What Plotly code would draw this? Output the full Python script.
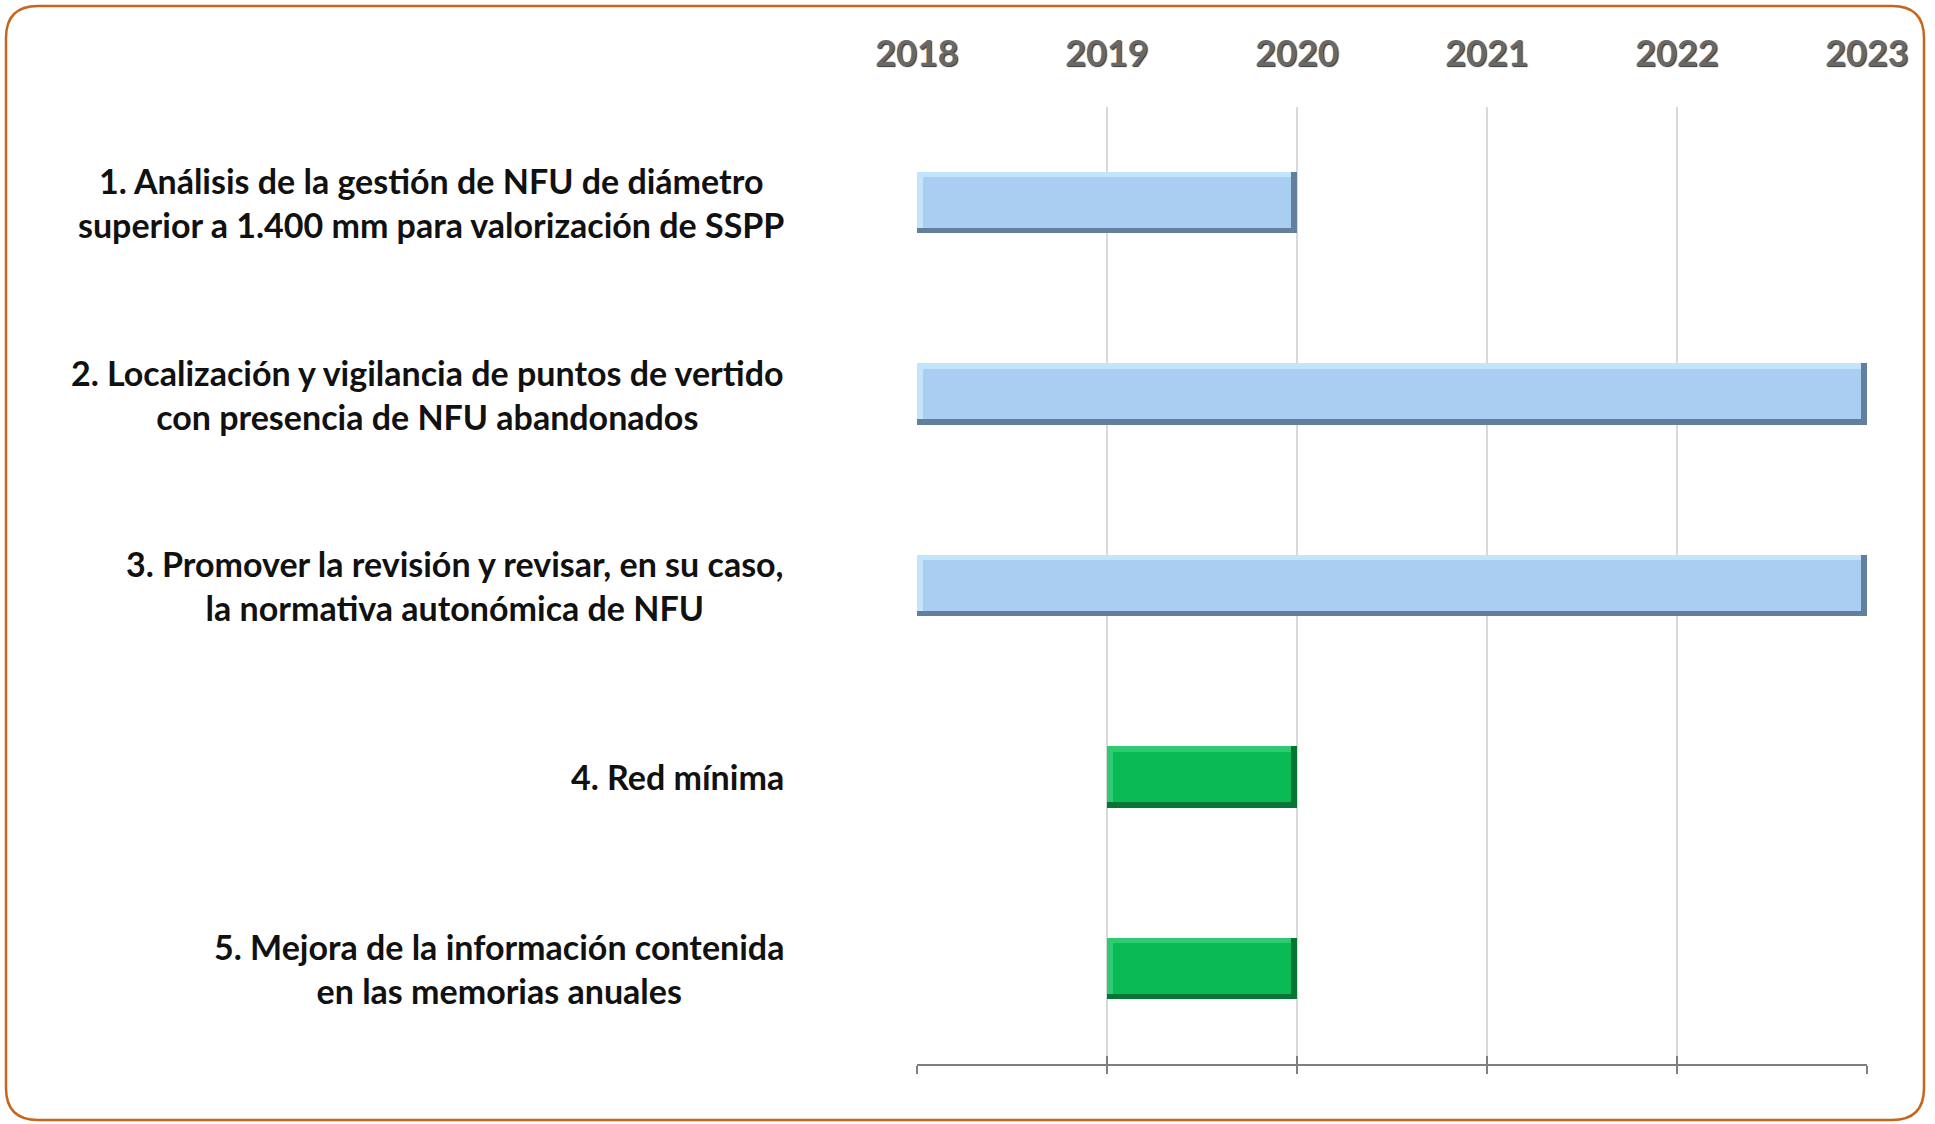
import plotly.graph_objects as go

# ---- data ----
tasks = [
    "1. Análisis de la gestión de NFU de diámetro<br>superior a 1.400 mm para valorización de SSPP",
    "2. Localización y vigilancia de puntos de vertido<br>con presencia de NFU abandonados",
    "3. Promover la revisión y revisar, en su caso,<br>la normativa autonómica de NFU",
    "4. Red mínima",
    "5. Mejora de la información contenida<br>en las memorias anuales",
]
start_year = [2018, 2018, 2018, 2019, 2019]
end_year = [2020, 2023, 2023, 2020, 2020]
group = ["blue", "blue", "blue", "green", "green"]
year_ticks = [2018, 2019, 2020, 2021, 2022, 2023]

# ---- styles ----
face = {"blue": "#A9CEF2", "green": "#0ABA55"}
light = {"blue": "#C4E4FB", "green": "#2ECB72"}
dark = {"blue": "#62809D", "green": "#067536"}

# ---- figure geometry ----
W, H = 1935, 1124
L, R, T, B = 917, 1867, 107, 1064

def xp(px):
    return (px - L) / (R - L)

def yp(py):
    return (B - py) / (B - T)

cats = list(range(len(tasks)))
durations = [e - s for s, e in zip(start_year, end_year)]
BW = 0.32          # bar thickness (category units)
dx = 0.03          # bevel inset (years)
dy = 0.028         # bevel inset (category units)

fig = go.Figure()
# dark shadow layer (whole bar)
fig.add_trace(go.Bar(
    y=cats, x=durations, base=start_year, orientation="h", width=BW,
    marker=dict(color=[dark[g] for g in group], line=dict(width=0)),
    hoverinfo="skip", showlegend=False,
))
# light highlight layer (top / left)
fig.add_trace(go.Bar(
    y=cats, x=[d - dx for d in durations], base=start_year, orientation="h",
    width=BW - dy, offset=-BW / 2,
    marker=dict(color=[light[g] for g in group], line=dict(width=0)),
    hoverinfo="skip", showlegend=False,
))
# face
fig.add_trace(go.Bar(
    y=cats, x=[d - 2 * dx for d in durations], base=[s + dx for s in start_year],
    orientation="h", width=BW - 2 * dy, offset=-BW / 2 + dy,
    marker=dict(color=[face[g] for g in group], line=dict(width=0)),
    hoverinfo="skip", showlegend=False,
))
# empty traces to activate the overlay axes
fig.add_trace(go.Scatter(x=[], y=[], xaxis="x2", showlegend=False))
fig.add_trace(go.Scatter(x=[], y=[], xaxis="x3", showlegend=False))
fig.add_trace(go.Scatter(x=[], y=[], xaxis="x4", showlegend=False))

xr = [year_ticks[0], year_ticks[-1]]
fig.update_layout(
    width=W, height=H,
    margin=dict(l=L, r=W - R, t=T, b=H - B),
    paper_bgcolor="white", plot_bgcolor="rgba(0,0,0,0)",
    barmode="overlay", bargap=0,
    xaxis=dict(
        range=xr, tickvals=year_ticks, showticklabels=False,
        showline=True, linecolor="#7F7F7F", linewidth=2,
        ticks="outside", ticklen=8, tickwidth=1.5, tickcolor="#7F7F7F",
        showgrid=False, zeroline=False, fixedrange=True,
    ),
    xaxis2=dict(
        overlaying="x", anchor="y", side="bottom", range=xr,
        tickvals=year_ticks, showticklabels=False, showline=False,
        ticks="inside", ticklen=8, tickwidth=1.5, tickcolor="#7F7F7F",
        showgrid=False, zeroline=False,
    ),
    xaxis3=dict(
        overlaying="x", anchor="y", side="bottom", range=xr,
        tickvals=year_ticks[1:], showticklabels=False, ticks="",
        showgrid=True, gridcolor="#D9D9D9", gridwidth=1.5, zeroline=False,
    ),
    xaxis4=dict(
        overlaying="x", anchor="y", side="top", range=xr,
        tickvals=year_ticks, ticktext=[str(v) for v in year_ticks],
        ticks="", showgrid=False, zeroline=False, showline=False,
        ticklabelstandoff=33,
        tickfont=dict(family="Lato", size=36, color="#686868", weight="bold",
                      shadow="1px 1px 1px #333333"),
    ),
    yaxis=dict(
        range=[len(tasks) - 0.5, -0.5], showticklabels=False, ticks="",
        showgrid=False, zeroline=False, showline=False, fixedrange=True,
    ),
)

for i, t in enumerate(tasks):
    fig.add_annotation(
        x=0, xref="paper", y=i, yref="y", xanchor="right", yanchor="middle",
        xshift=-131, text=t, align="center", showarrow=False,
        font=dict(family="Lato", size=34, color="#111111", weight="bold"),
    )

# rounded orange frame
x0, x1, y0, y1, r = 6, 1924, 6, 1120, 32
path = (
    f"M {xp(x0 + r)},{yp(y0)} L {xp(x1 - r)},{yp(y0)} "
    f"Q {xp(x1)},{yp(y0)} {xp(x1)},{yp(y0 + r)} "
    f"L {xp(x1)},{yp(y1 - r)} Q {xp(x1)},{yp(y1)} {xp(x1 - r)},{yp(y1)} "
    f"L {xp(x0 + r)},{yp(y1)} Q {xp(x0)},{yp(y1)} {xp(x0)},{yp(y1 - r)} "
    f"L {xp(x0)},{yp(y0 + r)} Q {xp(x0)},{yp(y0)} {xp(x0 + r)},{yp(y0)} Z"
)
fig.add_shape(type="path", path=path, xref="paper", yref="paper",
              line=dict(color="#C8651B", width=2.5), fillcolor="rgba(0,0,0,0)",
              layer="above")

fig.write_html("out.html", config={"displayModeBar": False},
               post_script="document.body.style.margin='0';")
